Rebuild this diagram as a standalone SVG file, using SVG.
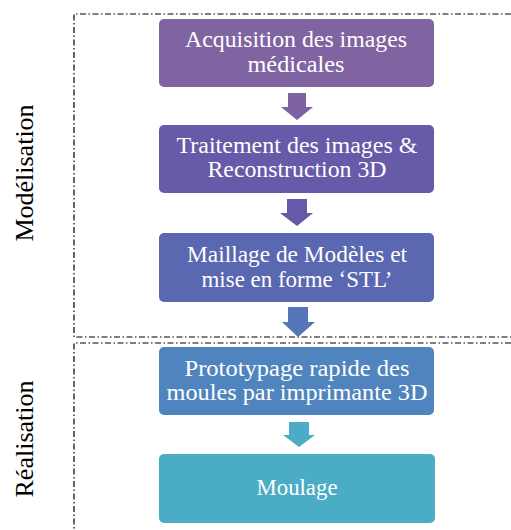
<svg xmlns="http://www.w3.org/2000/svg" width="511" height="530" viewBox="0 0 511 530">
<style>
.box{stroke:none}
.t{font-family:"Liberation Serif","Times New Roman",serif;font-size:23px;fill:#ffffff;text-anchor:middle}
.lab{font-family:"Liberation Serif","Times New Roman",serif;font-size:26px;fill:#000000;text-anchor:middle}
.dash{fill:none;stroke:#000000;stroke-width:1.2;stroke-dasharray:6 2.5 1.5 2.5}
</style>
<rect width="511" height="530" fill="#ffffff"/>
<g id="regions">
<path class="dash" d="M511,14 H74 V337 H511"/>
<path class="dash" d="M511,343 H74 V530"/>
</g>
<g id="labels">
<text class="lab" transform="translate(33,173) rotate(-90)">Modélisation</text>
<text class="lab" transform="translate(33,439) rotate(-90)">Réalisation</text>
</g>
<g id="connectors">
<polygon fill="#7D63A4" points="288,93 306,93 306,107 313,107 297,120 281,107 288,107"/>
<polygon fill="#6559AA" points="287,199 307,199 307,213 313,213 297,226 280,213 287,213"/>
<polygon fill="#5577BA" points="288,307 308,307 308,322 315,322 298,337 282,322 288,322"/>
<polygon fill="#4BACC6" points="289,422 309,422 309,435 315,435 299,447 283,435 289,435"/>
</g>
<g id="n1">
<rect class="box" x="159" y="19" width="275" height="68" rx="5" fill="#8064A2"/>
<text class="t" x="296" y="47" textLength="222" lengthAdjust="spacingAndGlyphs">Acquisition des images</text>
<text class="t" x="296" y="72" textLength="97" lengthAdjust="spacingAndGlyphs">médicales</text>
</g>
<g id="n2">
<rect class="box" x="159" y="125" width="275" height="68" rx="5" fill="#675AA9"/>
<text class="t" x="297" y="153" textLength="241" lengthAdjust="spacingAndGlyphs">Traitement des images &amp;</text>
<text class="t" x="297" y="177" textLength="179" lengthAdjust="spacingAndGlyphs">Reconstruction 3D</text>
</g>
<g id="n3">
<rect class="box" x="159" y="233" width="275" height="69" rx="5" fill="#5A67B1"/>
<text class="t" x="297" y="262" textLength="220" lengthAdjust="spacingAndGlyphs">Maillage de Modèles et</text>
<text class="t" x="297" y="287" textLength="191" lengthAdjust="spacingAndGlyphs">mise en forme ‘STL’</text>
</g>
<g id="n4">
<rect class="box" x="159" y="347" width="275" height="68" rx="5" fill="#5084BE"/>
<text class="t" x="297" y="376" textLength="225" lengthAdjust="spacingAndGlyphs">Prototypage rapide des</text>
<text class="t" x="297" y="400" textLength="261" lengthAdjust="spacingAndGlyphs">moules par imprimante 3D</text>
</g>
<g id="n5">
<rect class="box" x="159" y="454" width="276" height="69" rx="5" fill="#4BACC6"/>
<text class="t" x="297" y="495" textLength="81" lengthAdjust="spacingAndGlyphs">Moulage</text>
</g>
</svg>
